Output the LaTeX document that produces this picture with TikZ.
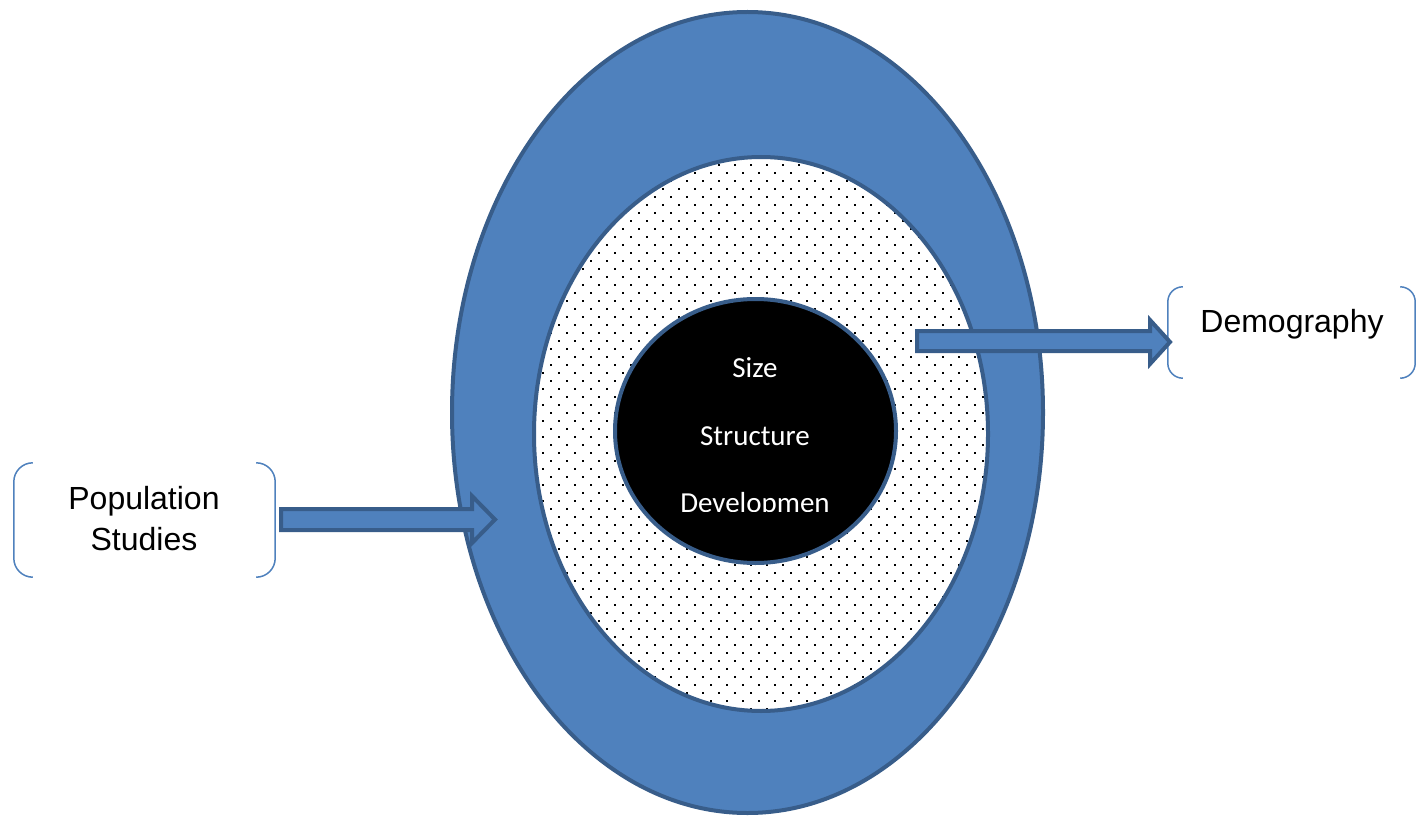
\documentclass[tikz,border=0pt]{standalone}
\usepackage{fontspec}
\setmainfont{Liberation Sans}
\newfontfamily\calibrifont{Carlito}
\definecolor{fillblue}{HTML}{4F81BD}
\definecolor{edgeblue}{HTML}{385D8A}
\tikzset{
  ring/.style={fill=fillblue, draw=edgeblue, line width=4pt},
  blockarrow/.style={fill=fillblue, draw=edgeblue, line width=4pt, line join=miter},
  bracketline/.style={draw=fillblue, line width=1.5pt, rounded corners=#1},
  coretext/.style={text=white, font=\calibrifont\fontsize{29}{34}\selectfont, anchor=base, inner sep=0pt},
  labeltext/.style={font=\fontsize{32}{41}\selectfont, align=center, inner sep=0pt},
  boxframe/.style={draw=none, inner sep=0pt}
}
\begin{document}
\begin{tikzpicture}[x=1pt,y=-1pt]
\useasboundingbox (0,0) rectangle (1418,818);
% outer ring
\draw[ring] (747.5,412.5) ellipse [x radius=295.5pt, y radius=400.5pt];
% inner dotted ellipse
\fill[white] (761,434) ellipse [x radius=227pt, y radius=277pt];
\begin{scope}
  \clip (761,434) ellipse [x radius=226pt, y radius=276pt];
  \foreach \k in {0,...,68} {
    \pgfmathsetmacro\yy{165+8*\k}
    \pgfmathsetmacro\xo{735+8*mod(\k,2)}
    \foreach \j in {-13,...,16} {
      \fill[black] (\xo+16*\j-1,\yy-1) rectangle ++(2,2);
    }
  }
\end{scope}
\draw[draw=edgeblue, line width=4pt] (761,434) ellipse [x radius=227pt, y radius=277pt];
% core
\draw[fill=black, draw=edgeblue, line width=4pt] (755.5,431) ellipse [x radius=140.5pt, y radius=132pt];
\begin{scope}
  \clip (600,300) rectangle (910,511);
  \node[coretext] (size) at (755,377) {Size};
  \node[coretext] (structure) at (755,445) {Structure};
  \node[coretext] (develop) at (755,512) {Developmen};
\end{scope}
% left bracket box and label
\node[boxframe, minimum width=261pt, minimum height=114pt] (popbox) at (144.5,520) {};
\draw[bracketline=19pt] ([xshift=19pt]popbox.north west) -- (popbox.north west) -- (popbox.south west) -- ([xshift=19pt]popbox.south west);
\draw[bracketline=19pt] ([xshift=-19pt]popbox.north east) -- (popbox.north east) -- (popbox.south east) -- ([xshift=-19pt]popbox.south east);
\node[labeltext] (poplabel) at (144,518.5) {Population\\Studies};
% right bracket box and label
\node[boxframe, minimum width=247pt, minimum height=91pt] (demobox) at (1291.5,332.5) {};
\draw[bracketline=15pt] ([xshift=15pt]demobox.north west) -- (demobox.north west) -- (demobox.south west) -- ([xshift=15pt]demobox.south west);
\draw[bracketline=15pt] ([xshift=-15pt]demobox.north east) -- (demobox.north east) -- (demobox.south east) -- ([xshift=-15pt]demobox.south east);
\node[labeltext, anchor=base] (demolabel) at (1292,332) {Demography};
% block arrows
\draw[blockarrow] (281,509) -- (472,509) -- (472,496) -- (495,519.5) -- (472,543) -- (472,530) -- (281,530) -- cycle;
\draw[blockarrow] (917,331) -- (1150,331) -- (1150,320) -- (1170,342) -- (1150,364) -- (1150,351) -- (917,351) -- cycle;
\end{tikzpicture}
\end{document}
